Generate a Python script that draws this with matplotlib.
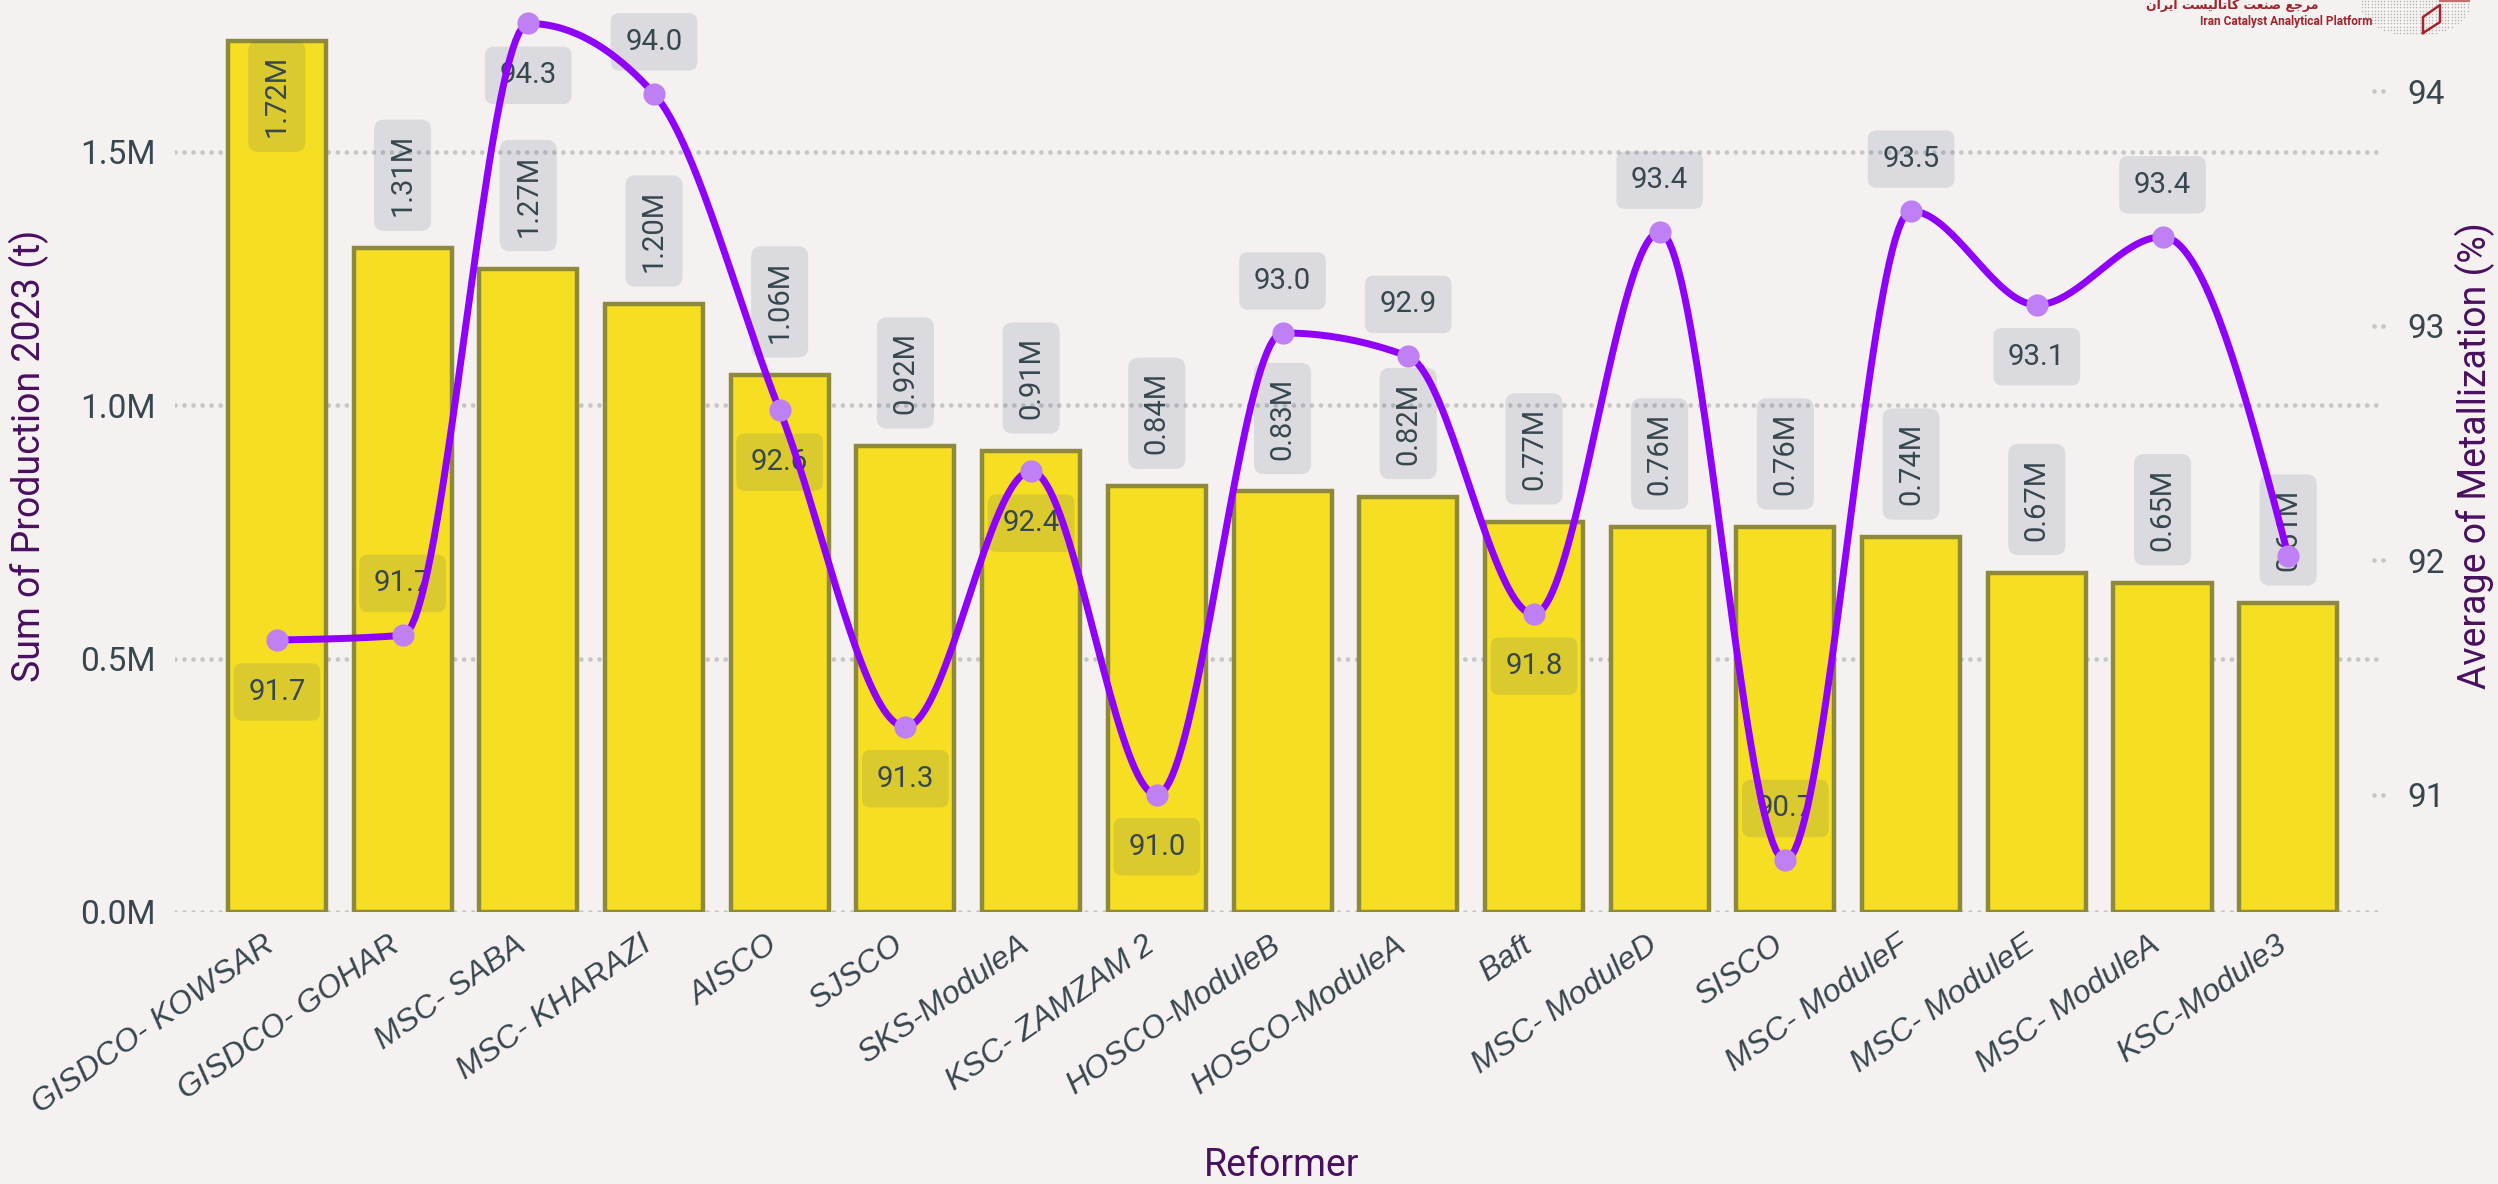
import numpy as np
import matplotlib.pyplot as plt
from matplotlib import transforms

plt.rcParams['font.family'] = ['Roboto', 'DejaVu Sans']

# Dados
reformers = ['GISDCO- KOWSAR', 'GISDCO- GOHAR', 'MSC- SABA', 'MSC- KHARAZI', 'AISCO', 'SJSCO',
             'SKS-ModuleA', 'KSC- ZAMZAM 2', 'HOSCO-ModuleB', 'HOSCO-ModuleA', 'Baft',
             'MSC- ModuleD', 'SISCO', 'MSC- ModuleF', 'MSC- ModuleE', 'MSC- ModuleA', 'KSC-Module3']
production = [1.72, 1.31, 1.27, 1.20, 1.06, 0.92, 0.91, 0.84, 0.83, 0.82,
              0.77, 0.76, 0.76, 0.74, 0.67, 0.65, 0.61]   # milhoes de t
metallization = [91.66, 91.68, 94.29, 93.99, 92.64, 91.29, 92.38, 91.00, 92.97, 92.87,
                 91.77, 93.40, 90.72, 93.49, 93.09, 93.38, 92.02]
# lado do rotulo da linha: 1 acima, -1 abaixo, 0 sem rotulo
label_side = [-1, 1, -1, 1, -1, -1, -1, -1, 1, 1, -1, 1, 1, 1, -1, 1, 0]

left_ticks = [0.0, 0.5, 1.0, 1.5]
left_tick_labels = ['0.0M', '0.5M', '1.0M', '1.5M']
right_ticks = [91, 92, 93, 94]

bg = '#f6f1f1'
text_col = '#37474f'
title_col = '#4a1060'
box_col = (0.26, 0.35, 0.48, 0.145)
dots = (0, (0.01, 1.9))


def monotone_curve(y, steps=40):
    # curva monotona (estilo d3 monotoneX)
    y = np.asarray(y, float)
    n = len(y)
    s = np.diff(y)
    t = np.zeros(n)
    for i in range(1, n - 1):
        s0, s1 = s[i - 1], s[i]
        p = (s0 + s1) / 2
        t[i] = (np.sign(s0) + np.sign(s1)) * min(abs(s0), abs(s1), 0.5 * abs(p))
    t[0] = (3 * s[0] - t[1]) / 2
    t[-1] = (3 * s[-1] - t[-2]) / 2
    xs, ys = [], []
    u = np.linspace(0, 1, steps, endpoint=False)
    for i in range(n - 1):
        h00 = 2 * u**3 - 3 * u**2 + 1
        h10 = u**3 - 2 * u**2 + u
        h01 = -2 * u**3 + 3 * u**2
        h11 = u**3 - u**2
        xs.append(i + u)
        ys.append(h00 * y[i] + h10 * t[i] + h01 * y[i + 1] + h11 * t[i + 1])
    xs.append([n - 1])
    ys.append([y[-1]])
    return np.concatenate(xs), np.concatenate(ys)


fig = plt.figure(figsize=(12.49, 5.92), dpi=200, facecolor=bg)
ax = fig.add_axes([175 / 2498, 1 - 912 / 1184, (2380 - 175) / 2498, 912 / 1184])
ax.set_facecolor(bg)
x = np.arange(len(reformers))

ax.bar(x, production, width=0.78, color='#f6de22', edgecolor='#8e8a3c', linewidth=1.6, zorder=2)
ax.set_xlim(-0.81, len(reformers) - 0.27)
ax.set_ylim(0, 1.8)
ax.set_yticks(left_ticks)
ax.set_yticklabels(left_tick_labels)
ax.grid(axis='y', color='#c6c6c6', linewidth=1.7, linestyle=dots,
        dash_capstyle='round', zorder=0)
ax.tick_params(axis='y', length=0, pad=6.8, labelsize=12, labelcolor=text_col)
ax.tick_params(axis='x', length=0, pad=6.5)
ax.set_xticks(x)
ax.set_xticklabels(reformers, rotation=35, ha='right', va='top', rotation_mode='anchor',
                   fontsize=11.5, color=text_col, family=['Liberation Sans'], style='italic')
shift = transforms.ScaledTranslation(-5 / 72, 0, fig.dpi_scale_trans)
for lbl in ax.get_xticklabels():
    lbl.set_transform(lbl.get_transform() + shift)
for sp in ax.spines.values():
    sp.set_visible(False)

# rotulos das barras
for xi, v in zip(x, production):
    inside = v + 0.29 > 1.8
    ax.annotate(f'{v:.2f}M', (xi, v), xytext=(0, -5.3 if inside else 11.5),
                textcoords='offset points', rotation=90, ha='center',
                va='top' if inside else 'bottom', fontsize=10.5, color=text_col, zorder=3,
                bbox=dict(boxstyle='round,pad=0.5,rounding_size=0.35', fc=box_col, ec='none'))

ax2 = ax.twinx()
ax2.set_ylim(90.5, 94.39)
ax2.set_yticks(right_ticks)
ax2.tick_params(axis='y', length=0, pad=9.7, labelsize=12, labelcolor=text_col)
for sp in ax2.spines.values():
    sp.set_visible(False)
tick_tr = transforms.blended_transform_factory(ax2.transAxes, ax2.transData)
for v in right_ticks:
    ax2.plot([0.9975, 1.0040], [v, v], transform=tick_tr, color='#c6c6c6', linewidth=1.7,
             linestyle=dots, dash_capstyle='round', clip_on=False)

cx, cy = monotone_curve(metallization)
ax2.plot(cx, cy, color='#8f00ff', linewidth=2.5, zorder=4, solid_capstyle='round')
ax2.plot(x, metallization, 'o', color='#bf80f5', markersize=8, markeredgewidth=0, zorder=5)

for xi, v, side in zip(x, metallization, label_side):
    if side == 0:
        continue
    ax2.annotate(f'{v:.1f}', (xi, v), xytext=(0, 18.7 * side), textcoords='offset points',
                 ha='center', va='center', fontsize=10.6, color=text_col, zorder=3,
                 bbox=dict(boxstyle='round,pad=0.5,rounding_size=0.3', fc=box_col, ec='none'))

# titulos dos eixos
fig.text(1282 / 2498, 8 / 1184, 'Reformer', ha='center', va='baseline', fontsize=13.5, color=title_col)
fig.text(29 / 2498, 1 - 456 / 1184, 'Sum of Production 2023 (t)', rotation=90,
         ha='center', va='center', fontsize=13.5, color=title_col)
fig.text(2475 / 2498, 1 - 456 / 1184, 'Average of Metallization (%)', rotation=90,
         ha='center', va='center', fontsize=13.5, color=title_col)

# logotipo
persa = ''.join(chr(c) for c in [0xFEE5, 0xFE8D, 0xFEAE, 0xFBFE, 0xFE8D]) + ' ' + \
        ''.join(chr(c) for c in [0xFE96, 0xFEB4, 0xFBFF, 0xFEDF, 0xFE8E, 0xFE97, 0xFE8E, 0xFB90]) + ' ' + \
        ''.join(chr(c) for c in [0xFE96, 0xFECC, 0xFEE8, 0xFEBB]) + ' ' + \
        ''.join(chr(c) for c in [0xFECA, 0xFE9F, 0xFEAE, 0xFEE3])
fig.text(2318 / 2498, 1 - 6 / 1184, persa, ha='right', va='center', fontsize=4.5,
         color='#a3242c', family=['DejaVu Sans'], weight='bold')
fig.text(2372 / 2498, 1 - 21 / 1184, 'Iran Catalyst Analytical Platform', ha='right', va='center',
         fontsize=4.3, color='#a3242c', weight='bold')
logo = fig.add_axes([2360 / 2498, 1 - 36 / 1184, 110 / 2498, 36 / 1184])
logo.set_xlim(0, 110)
logo.set_ylim(36, 0)
logo.axis('off')
gx, gy = np.meshgrid(np.arange(2, 110, 3.2), np.arange(1, 35, 3.2))
keep = (gx - 55) ** 2 / 55 ** 2 + (gy - 4) ** 2 / 32 ** 2 < 1
logo.scatter(gx[keep], gy[keep], s=0.25, color='#b0b0b0', linewidths=0)
logo.plot([63, 63, 80, 80, 63], [33, 17, 5, 22, 33], color='#a3242c', linewidth=0.9)
logo.plot([80, 110], [0.5, 0.5], color='#c07070', linewidth=0.8)

fig.savefig('out.png', dpi=200, facecolor=bg)
